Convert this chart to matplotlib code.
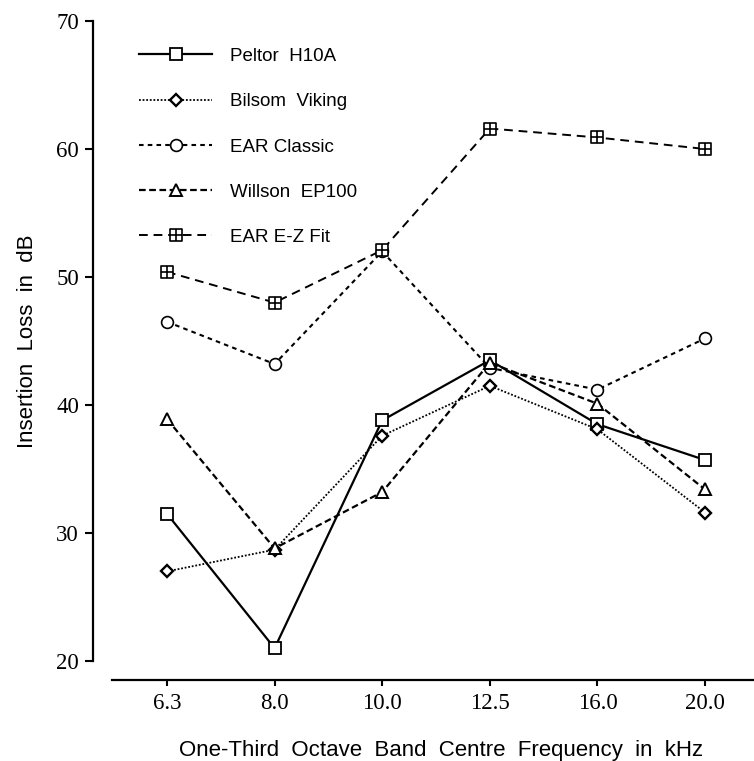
import matplotlib
matplotlib.use("Agg")
import matplotlib.pyplot as plt
import numpy as np
from matplotlib.path import Path

freq_labels = ["6.3", "8.0", "10.0", "12.5", "16.0", "20.0"]
y_ticks = [20, 30, 40, 50, 60, 70]

peltor = [31.5, 21.0, 38.8, 43.5, 38.5, 35.7]
bilsom = [27.0, 28.7, 37.6, 41.5, 38.1, 31.6]
ear_classic = [46.5, 43.2, 52.0, 42.9, 41.2, 45.2]
willson = [38.9, 28.8, 33.2, 43.3, 40.1, 33.4]
ear_ez = [50.4, 48.0, 52.1, 61.6, 60.9, 60.0]

names = ["Peltor  H10A", "Bilsom  Viking", "EAR Classic", "Willson  EP100", "EAR E-Z Fit"]

# square with a cross inside
boxplus = Path(
    [(-1, -1), (1, -1), (1, 1), (-1, 1), (-1, -1),
     (0, -1), (0, 1), (-1, 0), (1, 0)],
    [Path.MOVETO, Path.LINETO, Path.LINETO, Path.LINETO, Path.CLOSEPOLY,
     Path.MOVETO, Path.LINETO, Path.MOVETO, Path.LINETO])

fig = plt.figure(figsize=(7.54, 7.61), dpi=100)
ax = fig.add_axes([112/754, 1 - 661/761, 642/754, 640/761])

x = np.arange(len(freq_labels))
styles = [
    dict(ls='-', lw=1.6, marker='s', ms=8.5, mew=1.3),
    dict(ls=(0, (1, 1)), lw=1.3, marker='D', ms=6, mew=1.7),
    dict(ls=(0, (2.2, 2.0)), lw=1.5, marker='o', ms=8.5, mew=1.2),
    dict(ls=(0, (3.0, 1.6)), lw=1.6, marker='^', ms=8.5, mew=1.4),
    dict(ls=(0, (4.5, 3.0)), lw=1.4, marker=boxplus, ms=9, mew=1.2),
]
series = [peltor, bilsom, ear_classic, willson, ear_ez]
for vals, name, st in zip(series, names, styles):
    ax.plot(x, vals, color='black', mfc='white', mec='black', label=name,
            linestyle=st['ls'], lw=st['lw'], marker=st['marker'],
            markersize=st['ms'], markeredgewidth=st['mew'])

ax.set_xlim(-0.511, 5.455)
ax.set_ylim(20, 70)
ax.set_xticks(x)
ax.set_xticklabels(freq_labels)
ax.set_yticks(y_ticks)

for s in ['top', 'right']:
    ax.spines[s].set_visible(False)
ax.spines['left'].set_position(('outward', 13.7))
ax.spines['bottom'].set_position(('outward', 13.7))
ax.spines['left'].set_linewidth(1.6)
ax.spines['bottom'].set_linewidth(1.6)

serif = ['Liberation Serif', 'DejaVu Serif']
sans = ['Liberation Sans', 'DejaVu Sans']
ax.tick_params(axis='y', direction='out', length=6, width=1.5, pad=4)
ax.tick_params(axis='x', direction='out', length=4.5, width=1.5, pad=5)
for lab in ax.get_xticklabels() + ax.get_yticklabels():
    lab.set_fontfamily(serif)
    lab.set_fontsize(16.5)

ax.set_xlabel("One-Third  Octave  Band  Centre  Frequency  in  kHz",
              fontfamily=sans, fontsize=16)
ax.set_ylabel("Insertion  Loss  in  dB", fontfamily=sans, fontsize=16)
ax.xaxis.set_label_coords(0.512, -0.124)
ax.yaxis.set_label_coords(-0.115, 0.5)

leg = ax.legend(loc='upper left', bbox_to_anchor=(0.042, 0.958), frameon=False,
                prop={'family': sans, 'size': 13.5}, handlelength=3.9,
                handletextpad=0.95, labelspacing=1.5, borderpad=0,
                borderaxespad=0)

fig.savefig("out.png", dpi=100)
